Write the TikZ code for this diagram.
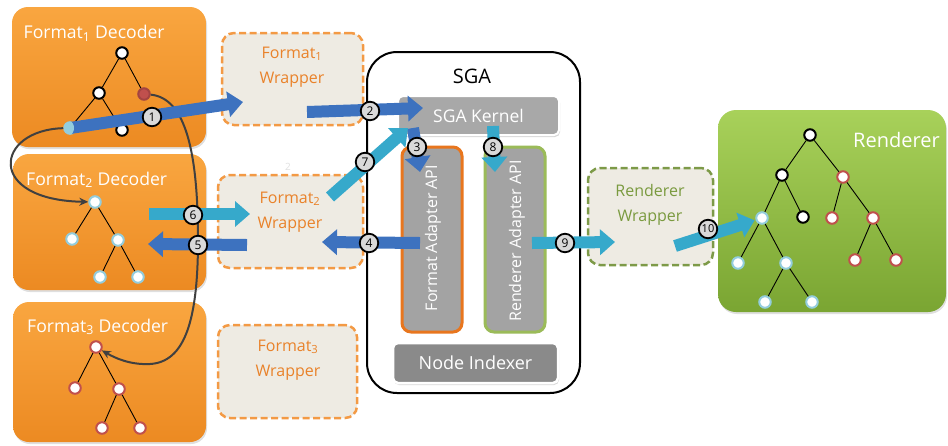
\documentclass[tikz,border=0pt]{standalone}
\usepackage{fontspec}
\setmainfont{Open Sans}
\usetikzlibrary{arrows.meta,shadows}
\definecolor{decTop}{HTML}{F9A640}
\definecolor{decBot}{HTML}{EC8A22}
\definecolor{wrapFill}{HTML}{EEEBE3}
\definecolor{wrapOrange}{HTML}{F39A45}
\definecolor{wrapText}{HTML}{E9822A}
\definecolor{greenDash}{HTML}{7D9A48}
\definecolor{greenText}{HTML}{7A9A3F}
\definecolor{rendTop}{HTML}{A8D15A}
\definecolor{rendBot}{HTML}{7AA532}
\definecolor{kernGrey}{HTML}{A8A8A8}
\definecolor{adGrey}{HTML}{A3A3A3}
\definecolor{idxGrey}{HTML}{8A8A8A}
\definecolor{adOrange}{HTML}{E8761E}
\definecolor{adGreen}{HTML}{9BBB59}
\definecolor{arrBlue}{HTML}{3D72BF}
\definecolor{arrCyan}{HTML}{36A9CB}
\definecolor{lightBlue}{HTML}{93CDDD}
\definecolor{nodeRed}{HTML}{C0504D}
\definecolor{curveGrey}{HTML}{404040}
\definecolor{numFill}{HTML}{D9D9D9}
\tikzset{
  deco/.style={rectangle, rounded corners=16pt, top color=decTop, bottom color=decBot, draw=none, inner sep=0pt, outer sep=0pt, drop shadow={opacity=0.25, shadow xshift=1pt, shadow yshift=-2pt}},
  wrapO/.style={rectangle, rounded corners=12pt, fill=wrapFill, draw=wrapOrange, line width=2.5pt, dash pattern=on 7pt off 3.5pt, inner sep=0pt, outer sep=0pt},
  wrapG/.style={wrapO, draw=greenDash},
  wraptext/.style={align=center, text=wrapText, font=\fontsize{16}{25}\selectfont},
  title/.style={text=white, font=\fontsize{17.6}{20}\selectfont, inner sep=0pt},
  sgabox/.style={rectangle, rounded corners=30pt, draw=black, line width=2pt, fill=white, inner sep=0pt},
  greybox/.style={rectangle, rounded corners=5pt, fill=kernGrey, draw=white, line width=2pt, inner sep=0pt, drop shadow={opacity=0.3, shadow xshift=1pt, shadow yshift=-2pt}},
  adapter/.style={rectangle, rounded corners=9pt, fill=adGrey, line width=3pt, inner sep=0pt, minimum width=60pt, minimum height=185pt},
  rend/.style={rectangle, rounded corners=18pt, top color=rendTop, bottom color=rendBot, draw=none, inner sep=0pt, drop shadow={opacity=0.25, shadow xshift=1pt, shadow yshift=-2pt}},
  tn/.style={circle, minimum size=11.5pt, inner sep=0pt, fill=white, line width=2pt},
  tblack/.style={tn, draw=black},
  tred/.style={tn, draw=nodeRed},
  tblue/.style={tn, draw=lightBlue},
  tedge/.style={draw=black, line width=0.9pt},
  curve/.style={draw=curveGrey, line width=2pt, -{Stealth[length=9pt,width=8pt]}},
  blueA/.style={draw=arrBlue, line width=12pt, -{Triangle[length=15pt,width=25pt]}},
  cyanA/.style={draw=arrCyan, line width=12pt, -{Triangle[length=15pt,width=25pt]}},
  numc/.style={circle, draw=black, line width=1.8pt, fill=numFill, inner sep=0pt, minimum size=18.5pt, font=\fontsize{12}{12}\selectfont},
}
\begin{document}
\begin{tikzpicture}[x=1pt,y=-1pt]
\useasboundingbox (0,0) rectangle (948,445);

% ---------- decoders ----------
\node[deco, minimum width=194pt, minimum height=140pt] (dec1) at (109,77) {};
\node[deco, minimum width=193pt, minimum height=136pt] (dec2) at (109.5,222) {};
\node[deco, minimum width=193pt, minimum height=140pt] (dec3) at (109.5,372) {};
\node[title, anchor=base west] (dec1t) at (23.5,38.5) {Format\textsubscript{1} Decoder};
\node[title, anchor=base west] (dec2t) at (26,185) {Format\textsubscript{2} Decoder};
\node[title, anchor=base west] (dec3t) at (27,332) {Format\textsubscript{3} Decoder};

% ---------- wrappers ----------
\node[wrapO, minimum width=141pt, minimum height=92pt] (w1) at (292.5,79) {};
\node[wrapO, minimum width=145pt, minimum height=93pt] (w2) at (290.5,221.5) {};
\node[wrapO, minimum width=139pt, minimum height=93pt] (w3) at (287.5,371.5) {};
\node[wraptext] (w1t) at (292,67) {Format\textsubscript{1}\\Wrapper};
\node[wraptext] (w2t) at (290,212) {Format\textsubscript{2}\\Wrapper};
\node[wraptext] (w3t) at (288,360) {Format\textsubscript{3}\\Wrapper};
\node[text=black!12, font=\fontsize{10}{10}\selectfont] (ghost) at (288,167) {2};

% ---------- SGA ----------
\node[sgabox, minimum width=213pt, minimum height=341pt] (sga) at (473.5,222.5) {};
\node[anchor=base, font=\fontsize{20}{20}\selectfont, inner sep=0pt] (sgat) at (472,83) {SGA};
\node[greybox, minimum width=161pt, minimum height=39pt, text=white, font=\fontsize{17.5}{18}\selectfont] (kern) at (478.5,115.5) {SGA Kernel};
\node[adapter, draw=adOrange] (fad) at (432,239.5) {};
\node[adapter, draw=adGreen] (rad) at (515,239.5) {};
\node[rotate=90, text=white, font=\fontsize{16}{16}\selectfont] (fadt) at (433,238) {Format Adapter API};
\node[rotate=90, text=white, font=\fontsize{16}{16}\selectfont] (radt) at (517,241) {Renderer Adapter API};
\node[greybox, fill=idxGrey, line width=2.5pt, minimum width=165pt, minimum height=40pt, text=white, font=\fontsize{18}{18}\selectfont] (idx) at (475.5,363) {Node Indexer};

% ---------- renderer ----------
\node[wrapG, minimum width=125pt, minimum height=97pt] (rw) at (650.5,216.5) {};
\node[wraptext, text=greenText] (rwt) at (650,205) {Renderer\\Wrapper};
\node[rend, minimum width=228pt, minimum height=202pt] (rend) at (832,211) {};
\node[title, anchor=base west, font=\fontsize{20}{20}\selectfont] (rendt) at (853,147) {Renderer};

% ---------- trees ----------
% format 1
\node[tblack] (f1r) at (122,53) {};
\node[tblack] (f1L) at (99,93) {};
\node[tn, fill=nodeRed, draw=nodeRed!85!black] (f1R) at (144,94) {};
\node[tn, fill=lightBlue, draw=lightBlue] (f1LL) at (70,128) {};
\node[tblack] (f1LR) at (122,130) {};
\draw[tedge] (f1r) -- (f1L); \draw[tedge] (f1r) -- (f1R);
\draw[tedge] (f1L) -- (f1LL); \draw[tedge] (f1L) -- (f1LR);
% format 2
\node[tblue] (f2r) at (95,202) {};
\node[tblue] (f2L) at (72,239) {};
\node[tblue] (f2R) at (118,240) {};
\node[tblue] (f2RL) at (100,277) {};
\node[tblue] (f2RR) at (138,277) {};
\draw[tedge] (f2r) -- (f2L); \draw[tedge] (f2r) -- (f2R);
\draw[tedge] (f2R) -- (f2RL); \draw[tedge] (f2R) -- (f2RR);
% format 3
\node[tred] (f3r) at (96,347) {};
\node[tred] (f3L) at (75,388) {};
\node[tred] (f3R) at (119,389) {};
\node[tred] (f3RL) at (102,428) {};
\node[tred] (f3RR) at (140,428) {};
\draw[tedge] (f3r) -- (f3L); \draw[tedge] (f3r) -- (f3R);
\draw[tedge] (f3R) -- (f3RL); \draw[tedge] (f3R) -- (f3RR);
% renderer tree
\node[tblack] (r0) at (810,135) {};
\node[tblack] (r1) at (782,175) {};
\node[tred] (r2) at (843,177) {};
\node[tblue] (r3) at (762,218) {};
\node[tblack] (r4) at (803,217) {};
\node[tred] (r5) at (832,218) {};
\node[tred] (r6) at (873,218) {};
\node[tblue] (r7) at (738,263) {};
\node[tblue] (r8) at (786,263) {};
\node[tred] (r9) at (855,260) {};
\node[tred] (r10) at (896,260) {};
\node[tblue] (r11) at (765,302) {};
\node[tblue] (r12) at (812,302) {};
\draw[tedge] (r0) -- (r1); \draw[tedge] (r0) -- (r2);
\draw[tedge] (r1) -- (r3); \draw[tedge] (r1) -- (r4);
\draw[tedge] (r2) -- (r5); \draw[tedge] (r2) -- (r6);
\draw[tedge] (r3) -- (r7); \draw[tedge] (r3) -- (r8);
\draw[tedge] (r6) -- (r9); \draw[tedge] (r6) -- (r10);
\draw[tedge] (r8) -- (r11); \draw[tedge] (r8) -- (r12);

% ---------- curved connectors ----------
\coordinate (cb1) at (198,240);
\coordinate (cb2) at (150,364);
\draw[curve] (f1LL) .. controls (-5,130) and (-15,200) .. (f2r);
\draw[curve] (f1R) .. controls (185,98) and (198,150) .. (cb1)
  .. controls (198,320) and (185,362) .. (cb2)
  .. controls (130,365) and (115,358) .. (f3r);

% ---------- block arrows ----------
\coordinate (a1e) at (243,102);
\coordinate (a2s) at (307,112); \coordinate (a2e) at (423,108);
\coordinate (a3s) at (413,128); \coordinate (a3e) at (420,172);
\coordinate (a4s) at (420,243); \coordinate (a4e) at (322,242);
\coordinate (a5s) at (247,245); \coordinate (a5e) at (148,244);
\coordinate (a6s) at (149,214); \coordinate (a6e) at (250,214);
\coordinate (a7s) at (330,197); \coordinate (a7e) at (408,128);
\coordinate (a8s) at (493,126); \coordinate (a8e) at (495,172);
\coordinate (a9s) at (532,243); \coordinate (a9e) at (615,242);
\coordinate (a10s) at (675,246);
\draw[blueA] (f1LL.center) -- (a1e);
\fill[lightBlue] (f1LL.center) ellipse (4pt and 6.5pt);
\draw[blueA] (a2s) -- (a2e);
\draw[blueA] (a3s) -- (a3e);
\draw[blueA] (a4s) -- (a4e);
\draw[blueA] (a5s) -- (a5e);
\draw[cyanA] (a6s) -- (a6e);
\draw[cyanA] (a7s) -- (a7e);
\draw[cyanA] (a8s) -- (a8e);
\draw[cyanA] (a9s) -- (a9e);
\draw[cyanA, shorten >=1pt] (a10s) -- (r3);

% ---------- step numbers ----------
\node[numc] (n1) at (152,117) {1};
\node[numc] (n2) at (370,111) {2};
\node[numc] (n3) at (417,147) {3};
\node[numc] (n4) at (369,243) {4};
\node[numc] (n5) at (198,245) {5};
\node[numc] (n6) at (193,215) {6};
\node[numc] (n7) at (365,162) {7};
\node[numc] (n8) at (493,147) {8};
\node[numc] (n9) at (565,243) {9};
\node[numc, font=\fontsize{11}{11}\selectfont] (n10) at (708,229) {10};
\end{tikzpicture}
\end{document}
